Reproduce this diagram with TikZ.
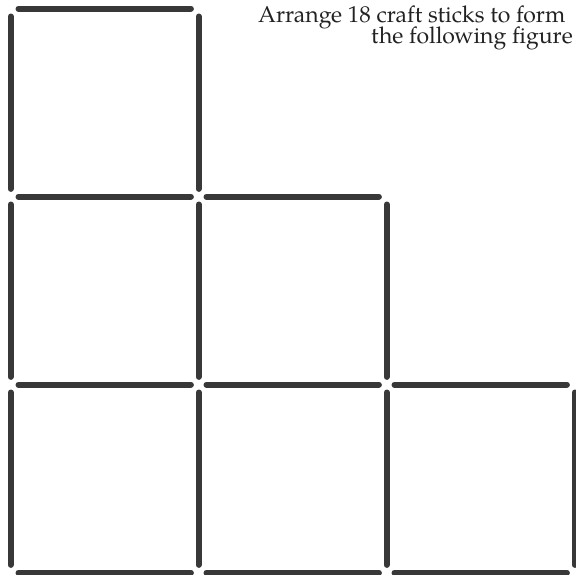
\documentclass[tikz,border=0pt]{standalone}
\usepackage{fontspec}
\setmainfont{TeX Gyre Pagella}
\definecolor{stick}{HTML}{383838}
\definecolor{txt}{HTML}{222222}
\begin{document}
\begin{tikzpicture}[x=1pt,y=-1pt,
  stickline/.style={line width=6pt,line cap=round,draw=stick},
  caption/.style={anchor=base west,inner sep=0pt,text=txt,font=\fontsize{23}{27}\selectfont}]
\useasboundingbox (0,0) rectangle (576,575);
\def\ox{10.7}\def\oy{8.7}\def\g{188}\def\o{7.8}
% horizontal sticks: row, from column
\foreach \r/\c in {0/0, 1/0, 1/1, 2/0, 2/1, 2/2, 3/0, 3/1, 3/2}{
  \coordinate (h\r\c a) at ({\ox+\c*\g+\o},{\oy+\r*\g});
  \coordinate (h\r\c b) at ({\ox+(\c+1)*\g-\o},{\oy+\r*\g});
  \draw[stickline] (h\r\c a) -- (h\r\c b);
}
% vertical sticks: column, from row
\foreach \c/\r in {0/0, 0/1, 0/2, 1/0, 1/1, 1/2, 2/1, 2/2, 3/2}{
  \coordinate (v\c\r a) at ({\ox+\c*\g},{\oy+\r*\g+\o});
  \coordinate (v\c\r b) at ({\ox+\c*\g},{\oy+(\r+1)*\g-\o});
  \draw[stickline] (v\c\r a) -- (v\c\r b);
}
\node[caption] (line1) at (258,22.3) {Arrange 18 craft sticks to form};
\node[caption] (line2) at (371,44) {the following figure};
\end{tikzpicture}
\end{document}
